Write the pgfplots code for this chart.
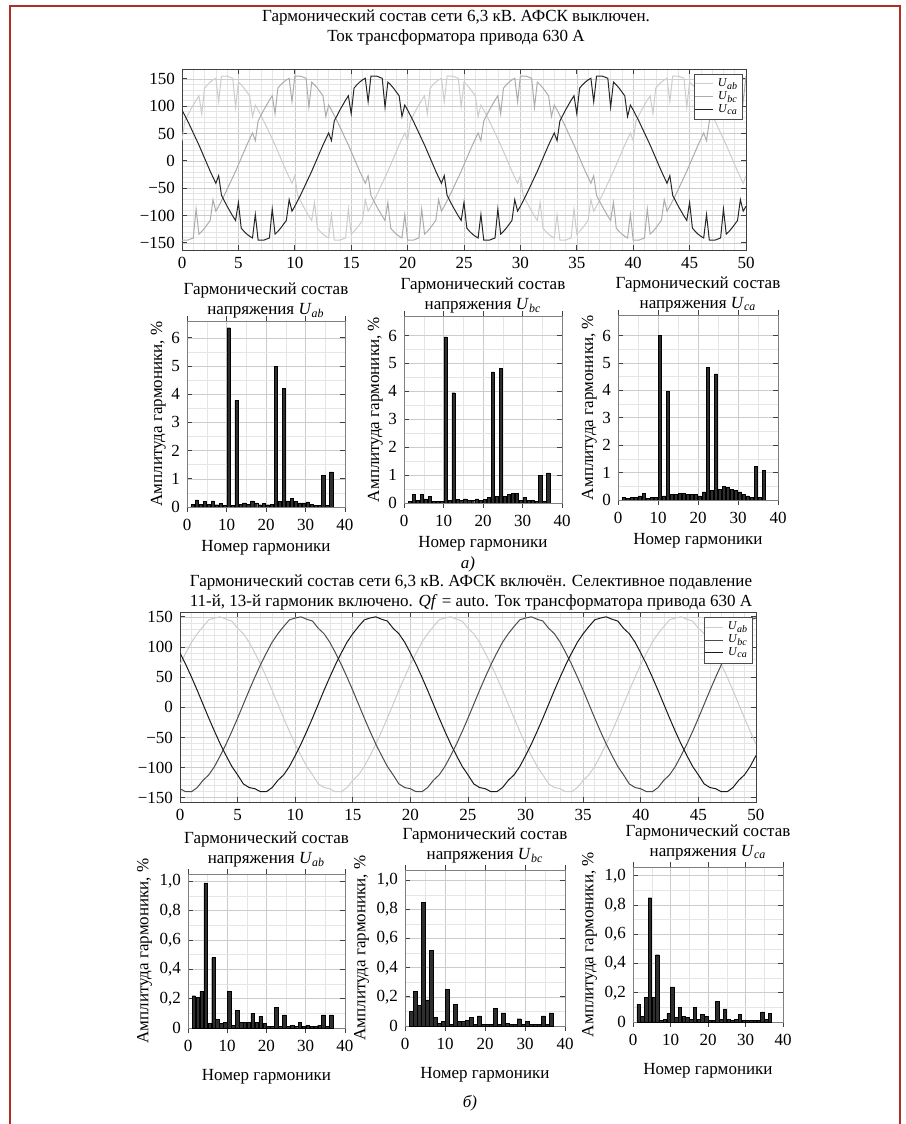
\documentclass[border=0pt]{standalone}
\usepackage{fontspec}
\setmainfont{Liberation Serif}
\usepackage{pgfplots}
\usepackage{pgfplotstable}
\pgfplotsset{compat=1.18}
\newcommand{\U}[1]{\textit{U}\textsubscript{\textit{#1}}}
\newcommand{\fs}{\fontsize{8.5}{10}\selectfont}
\definecolor{frame}{RGB}{175,45,35}

% a) voltages, 6.3 kV, filter off (time in ms)
\pgfplotstableread{
x ab bc ca
0 37 -145 93
0.25 73 -145 83
0.5 83 -145 73
0.75 93 -143 62
1 102 -141 51
1.25 111 -88 40
1.5 119 -134 29
1.75 86 -129 17
2 133 -123 5
2.25 139 -116 -7
2.5 144 -109 -19
2.75 148 -71 -30
3 151 -92 -41
3.25 108 -83 -27
3.5 155 -73 -63
3.75 155 -63 -73
4 155 -52 -83
4.25 153 -41 -92
4.5 151 -30 -101
4.75 98 -19 -109
5 144 -7 -76
5.25 139 5 -123
5.5 133 17 -129
5.75 126 29 -134
6 119 40 -138
6.25 81 51 -141
6.5 102 37 -98
6.75 93 73 -145
7 83 83 -145
7.25 73 93 -145
7.5 62 102 -143
7.75 51 111 -141
8 40 119 -88
8.25 29 86 -134
8.5 17 133 -129
8.75 5 139 -123
9 -7 144 -116
9.25 -19 148 -109
9.5 -30 151 -71
9.75 -41 108 -92
10 -27 155 -83
10.25 -63 155 -73
10.5 -73 155 -63
10.75 -83 153 -52
11 -92 151 -41
11.25 -101 98 -30
11.5 -109 144 -19
11.75 -76 139 -7
12 -123 133 5
12.25 -129 126 17
12.5 -134 119 29
12.75 -138 81 40
13 -141 102 51
13.25 -98 93 37
13.5 -145 83 73
13.75 -145 73 83
14 -145 62 93
14.25 -143 51 102
14.5 -141 40 111
14.75 -88 29 119
15 -134 17 86
15.25 -129 5 133
15.5 -123 -7 139
15.75 -116 -19 144
16 -109 -30 148
16.25 -71 -41 151
16.5 -92 -27 108
16.75 -83 -63 155
17 -73 -73 155
17.25 -63 -83 155
17.5 -52 -92 153
17.75 -41 -101 151
18 -30 -109 98
18.25 -19 -76 144
18.5 -7 -123 139
18.75 5 -129 133
19 17 -134 126
19.25 29 -138 119
19.5 40 -141 81
19.75 51 -98 102
20 37 -145 93
20.25 73 -145 83
20.5 83 -145 73
20.75 93 -143 62
21 102 -141 51
21.25 111 -88 40
21.5 119 -134 29
21.75 86 -129 17
22 133 -123 5
22.25 139 -116 -7
22.5 144 -109 -19
22.75 148 -71 -30
23 151 -92 -41
23.25 108 -83 -27
23.5 155 -73 -63
23.75 155 -63 -73
24 155 -52 -83
24.25 153 -41 -92
24.5 151 -30 -101
24.75 98 -19 -109
25 144 -7 -76
25.25 139 5 -123
25.5 133 17 -129
25.75 126 29 -134
26 119 40 -138
26.25 81 51 -141
26.5 102 37 -98
26.75 93 73 -145
27 83 83 -145
27.25 73 93 -145
27.5 62 102 -143
27.75 51 111 -141
28 40 119 -88
28.25 29 86 -134
28.5 17 133 -129
28.75 5 139 -123
29 -7 144 -116
29.25 -19 148 -109
29.5 -30 151 -71
29.75 -41 108 -92
30 -27 155 -83
30.25 -63 155 -73
30.5 -73 155 -63
30.75 -83 153 -52
31 -92 151 -41
31.25 -101 98 -30
31.5 -109 144 -19
31.75 -76 139 -7
32 -123 133 5
32.25 -129 126 17
32.5 -134 119 29
32.75 -138 81 40
33 -141 102 51
33.25 -98 93 37
33.5 -145 83 73
33.75 -145 73 83
34 -145 62 93
34.25 -143 51 102
34.5 -141 40 111
34.75 -88 29 119
35 -134 17 86
35.25 -129 5 133
35.5 -123 -7 139
35.75 -116 -19 144
36 -109 -30 148
36.25 -71 -41 151
36.5 -92 -27 108
36.75 -83 -63 155
37 -73 -73 155
37.25 -63 -83 155
37.5 -52 -92 153
37.75 -41 -101 151
38 -30 -109 98
38.25 -19 -76 144
38.5 -7 -123 139
38.75 5 -129 133
39 17 -134 126
39.25 29 -138 119
39.5 40 -141 81
39.75 51 -98 102
40 37 -145 93
40.25 73 -145 83
40.5 83 -145 73
40.75 93 -143 62
41 102 -141 51
41.25 111 -88 40
41.5 119 -134 29
41.75 86 -129 17
42 133 -123 5
42.25 139 -116 -7
42.5 144 -109 -19
42.75 148 -71 -30
43 151 -92 -41
43.25 108 -83 -27
43.5 155 -73 -63
43.75 155 -63 -73
44 155 -52 -83
44.25 153 -41 -92
44.5 151 -30 -101
44.75 98 -19 -109
45 144 -7 -76
45.25 139 5 -123
45.5 133 17 -129
45.75 126 29 -134
46 119 40 -138
46.25 81 51 -141
46.5 102 37 -98
46.75 93 73 -145
47 83 83 -145
47.25 73 93 -145
47.5 62 102 -143
47.75 51 111 -141
48 40 119 -88
48.25 29 86 -134
48.5 17 133 -129
48.75 5 139 -123
49 -7 144 -116
49.25 -19 148 -109
49.5 -30 151 -71
49.75 -41 108 -92
50 -27 155 -83
}\wavA

% b) voltages, filter on
\pgfplotstableread{
x ab bc ca
0 71 -135 90
0.5 90 -140 71
1 108 -140 50
1.5 122 -133 28
2 134 -121 5
2.5 145 -112 -18
3 148 -98 -40
3.5 150 -80 -61
4 146 -61 -80
4.5 143 -40 -98
5 131 -18 -112
5.5 122 5 -127
6 108 28 -133
6.5 90 50 -135
7 71 71 -140
7.5 50 90 -140
8 28 108 -133
8.5 5 122 -121
9 -18 134 -112
9.5 -40 145 -98
10 -61 148 -80
10.5 -80 150 -61
11 -98 146 -40
11.5 -112 143 -18
12 -127 131 5
12.5 -133 122 28
13 -135 108 50
13.5 -140 90 71
14 -140 71 90
14.5 -133 50 108
15 -121 28 122
15.5 -112 5 134
16 -98 -18 145
16.5 -80 -40 148
17 -61 -61 150
17.5 -40 -80 146
18 -18 -98 143
18.5 5 -112 131
19 28 -127 122
19.5 50 -133 108
20 71 -135 90
20.5 90 -140 71
21 108 -140 50
21.5 122 -133 28
22 134 -121 5
22.5 145 -112 -18
23 148 -98 -40
23.5 150 -80 -61
24 146 -61 -80
24.5 143 -40 -98
25 131 -18 -112
25.5 122 5 -127
26 108 28 -133
26.5 90 50 -135
27 71 71 -140
27.5 50 90 -140
28 28 108 -133
28.5 5 122 -121
29 -18 134 -112
29.5 -40 145 -98
30 -61 148 -80
30.5 -80 150 -61
31 -98 146 -40
31.5 -112 143 -18
32 -127 131 5
32.5 -133 122 28
33 -135 108 50
33.5 -140 90 71
34 -140 71 90
34.5 -133 50 108
35 -121 28 122
35.5 -112 5 134
36 -98 -18 145
36.5 -80 -40 148
37 -61 -61 150
37.5 -40 -80 146
38 -18 -98 143
38.5 5 -112 131
39 28 -127 122
39.5 50 -133 108
40 71 -135 90
40.5 90 -140 71
41 108 -140 50
41.5 122 -133 28
42 134 -121 5
42.5 145 -112 -18
43 148 -98 -40
43.5 150 -80 -61
44 146 -61 -80
44.5 143 -40 -98
45 131 -18 -112
45.5 122 5 -127
46 108 28 -133
46.5 90 50 -135
47 71 71 -140
47.5 50 90 -140
48 28 108 -133
48.5 5 122 -121
49 -18 134 -112
49.5 -40 145 -98
50 -61 148 -80
}\wavB

\pgfplotsset{
  base/.style={scale only axis, anchor=south west,
    axis line style={black!75, line width=0.45pt},
    tick style={black!75, line width=0.4pt},
    major tick length=2.5pt, minor tick length=0pt,
    grid=both,
    major grid style={gray!40, line width=0.3pt},
    minor grid style={gray!20, line width=0.25pt},
    /pgf/number format/assume math mode=true,
    tick label style={font=\fs}, label style={font=\fs},
    title style={font=\fs, align=center}},
  wave/.style={base, xmin=0, xmax=50, xtick={0,5,...,50},
    ytick={-150,-100,-50,0,50,100,150},
    yticklabels={−150,−100,−50,0,50,100,150},
    minor x tick num=4, minor y tick num=4,
    legend style={at={(0.995,0.975)}, anchor=north east,
      font=\fontsize{6}{6}\selectfont, draw=black!70,
      inner sep=0.3pt, row sep=-3pt},
    legend image code/.code={\draw[##1] (0pt,0pt) -- (9pt,0pt);}},
  harm/.style={base, ybar, bar width=0.8, xmin=0, xmax=40, ymin=0,
    xtick={0,10,...,40}, minor x tick num=1, minor y tick num=1,
    axis line style={black!50, line width=0.4pt},
    xlabel={Номер гармоники}, ylabel={Амплитуда гармоники, \%}},
  hb/.style={fill=black!82, draw=black, line width=0.2pt},
  harmA/.style={harm, ytick={0,1,2,3,4,5,6}, ylabel style={yshift=-4pt},
    xlabel style={yshift=2pt}, title style={yshift=-8pt}},
  harmB/.style={harm, bar width=0.9, ylabel style={yshift=-3pt},
    xlabel style={yshift=-2pt}, title style={yshift=-6pt},
    ytick={0,0.2,0.4,0.6,0.8,1}, yticklabels={0,{0,2},{0,4},{0,6},{0,8},{1,0}}},
}

\begin{document}
\begin{tikzpicture}
\useasboundingbox (0,0) rectangle (452.5pt,562pt);
\draw[frame, line width=1pt] (5pt,0pt) -- (5pt,559pt) -- (450pt,559pt) -- (450pt,0pt);

\node[font=\fs, align=center] at (228pt,548pt)
  {Гармонический состав сети 6,3 кВ. АФСК выключен.\\Ток трансформатора привода 630 А};

\begin{axis}[wave, at={(91pt,437pt)}, width=282pt, height=90.5pt, ymin=-163, ymax=168]
\addplot[gray!40, line width=0.5pt] table[x=x, y=ab] {\wavA};
\addplot[gray!65, line width=0.5pt] table[x=x, y=bc] {\wavA};
\addplot[black!85, line width=0.5pt] table[x=x, y=ca] {\wavA};
\legend{\U{ab},\U{bc},\U{ca}}
\end{axis}

\begin{axis}[harmA, at={(93.5pt,308.5pt)}, width=79pt, height=93pt, ymax=6.6,
  title={Гармонический состав\\напряжения \U{ab}}]
\addplot[hb] coordinates {(1.5,0.10) (2.5,0.25) (3.5,0.10) (4.5,0.20) (5.5,0.10) (6.5,0.22)
  (7.5,0.08) (8.5,0.12) (9.5,0.05) (10.5,6.36) (11.5,0.05) (12.5,3.79) (13.5,0.10)
  (14.5,0.15) (15.5,0.10) (16.5,0.22) (17.5,0.15) (18.5,0.08) (19.5,0.12) (20.5,0.08)
  (21.5,0.10) (22.5,4.99) (23.5,0.20) (24.5,4.22) (25.5,0.22) (26.5,0.30) (27.5,0.20)
  (28.5,0.15) (29.5,0.15) (30.5,0.18) (31.5,0.10) (32.5,0.05) (33.5,0.05) (34.5,1.13)
  (35.5,0.05) (36.5,1.25)};
\end{axis}

\begin{axis}[harmA, at={(202pt,310.5pt)}, width=79pt, height=93.5pt, ymax=6.7,
  title={Гармонический состав\\напряжения \U{bc}}]
\addplot[hb] coordinates {(1.5,0.05) (2.5,0.30) (3.5,0.10) (4.5,0.30) (5.5,0.15) (6.5,0.25)
  (7.5,0.05) (8.5,0.05) (9.5,0.05) (10.5,5.95) (11.5,0.10) (12.5,3.95) (13.5,0.12)
  (14.5,0.10) (15.5,0.15) (16.5,0.10) (17.5,0.10) (18.5,0.15) (19.5,0.10) (20.5,0.12)
  (21.5,0.20) (22.5,4.70) (23.5,0.25) (24.5,4.82) (25.5,0.25) (26.5,0.30) (27.5,0.35)
  (28.5,0.35) (29.5,0.10) (30.5,0.20) (31.5,0.10) (32.5,0.10) (33.5,0.05) (34.5,1.00)
  (35.5,0.05) (36.5,1.08)};
\end{axis}

\begin{axis}[harmA, at={(309pt,312pt)}, width=80pt, height=92.5pt, ymax=6.75,
  title={Гармонический состав\\напряжения \U{ca}}]
\addplot[hb] coordinates {(1.5,0.10) (2.5,0.05) (3.5,0.10) (4.5,0.10) (5.5,0.15) (6.5,0.25)
  (7.5,0.05) (8.5,0.10) (9.5,0.10) (10.5,6.00) (11.5,0.15) (12.5,3.96) (13.5,0.20)
  (14.5,0.20) (15.5,0.25) (16.5,0.25) (17.5,0.20) (18.5,0.20) (19.5,0.20) (20.5,0.15)
  (21.5,0.30) (22.5,4.83) (23.5,0.35) (24.5,4.60) (25.5,0.40) (26.5,0.50) (27.5,0.45)
  (28.5,0.40) (29.5,0.35) (30.5,0.30) (31.5,0.20) (32.5,0.15) (33.5,0.10) (34.5,1.24)
  (35.5,0.10) (36.5,1.08)};
\end{axis}

\node[font=\fs\itshape] at (234pt,280pt) {а)};

\node[font=\fs, align=center] at (235.5pt,266pt)
  {Гармонический состав сети 6,3 кВ. АФСК включён. Селективное подавление\\
   11-й, 13-й гармоник включено. \textit{Qf} = auto. Ток трансформатора привода 630 А};

\begin{axis}[wave, at={(90pt,161pt)}, width=288pt, height=95pt, ymin=-157, ymax=158]
\addplot[gray!40, line width=0.5pt] table[x=x, y=ab] {\wavB};
\addplot[black!70, line width=0.5pt] table[x=x, y=bc] {\wavB};
\addplot[black!90, line width=0.5pt] table[x=x, y=ca] {\wavB};
\legend{\U{ab},\U{bc},\U{ca}}
\end{axis}

\begin{axis}[harmB, at={(94pt,48pt)}, width=78.5pt, height=77pt, ymax=1.05,
  title={Гармонический состав\\напряжения \U{ab}}]
\addplot[hb] coordinates {(1.5,0.22) (2.5,0.21) (3.5,0.25) (4.5,0.99) (5.5,0.03) (6.5,0.48)
  (7.5,0.06) (8.5,0.03) (9.5,0.04) (10.5,0.25) (11.5,0.02) (12.5,0.12) (13.5,0.04)
  (14.5,0.04) (15.5,0.04) (16.5,0.10) (17.5,0.04) (18.5,0.08) (19.5,0.03) (20.5,0.01)
  (21.5,0.01) (22.5,0.14) (23.5,0.01) (24.5,0.09) (25.5,0.01) (26.5,0.02) (27.5,0.01)
  (28.5,0.04) (29.5,0.01) (30.5,0.02) (31.5,0.01) (32.5,0.01) (33.5,0.02) (34.5,0.09)
  (35.5,0.01) (36.5,0.09)};
\end{axis}

\begin{axis}[harmB, at={(202.5pt,49pt)}, width=80pt, height=78pt, ymax=1.07,
  title={Гармонический состав\\напряжения \U{bc}}]
\addplot[hb] coordinates {(1.5,0.10) (2.5,0.24) (3.5,0.14) (4.5,0.85) (5.5,0.18) (6.5,0.52)
  (7.5,0.06) (8.5,0.02) (9.5,0.03) (10.5,0.25) (11.5,0.01) (12.5,0.15) (13.5,0.03)
  (14.5,0.03) (15.5,0.04) (16.5,0.06) (17.5,0.01) (18.5,0.07) (19.5,0.01) (20.5,0.01)
  (21.5,0.01) (22.5,0.12) (23.5,0.01) (24.5,0.09) (25.5,0.02) (26.5,0.01) (27.5,0.01)
  (28.5,0.05) (29.5,0.01) (30.5,0.03) (31.5,0.01) (32.5,0.01) (33.5,0.01) (34.5,0.07)
  (35.5,0.01) (36.5,0.09)};
\end{axis}

\begin{axis}[harmB, at={(316.5pt,51pt)}, width=75pt, height=77.5pt, ymax=1.06,
  title={Гармонический состав\\напряжения \U{ca}}]
\addplot[hb] coordinates {(1.5,0.12) (2.5,0.04) (3.5,0.17) (4.5,0.85) (5.5,0.17) (6.5,0.46)
  (7.5,0.01) (8.5,0.02) (9.5,0.06) (10.5,0.24) (11.5,0.03) (12.5,0.10) (13.5,0.04)
  (14.5,0.03) (15.5,0.02) (16.5,0.10) (17.5,0.02) (18.5,0.05) (19.5,0.04) (20.5,0.01)
  (21.5,0.01) (22.5,0.14) (23.5,0.02) (24.5,0.09) (25.5,0.02) (26.5,0.01) (27.5,0.02)
  (28.5,0.05) (29.5,0.01) (30.5,0.01) (31.5,0.01) (32.5,0.01) (33.5,0.01) (34.5,0.07)
  (35.5,0.02) (36.5,0.06)};
\end{axis}

\node[font=\fs\itshape] at (235pt,10.5pt) {б)};
\end{tikzpicture}
\end{document}
